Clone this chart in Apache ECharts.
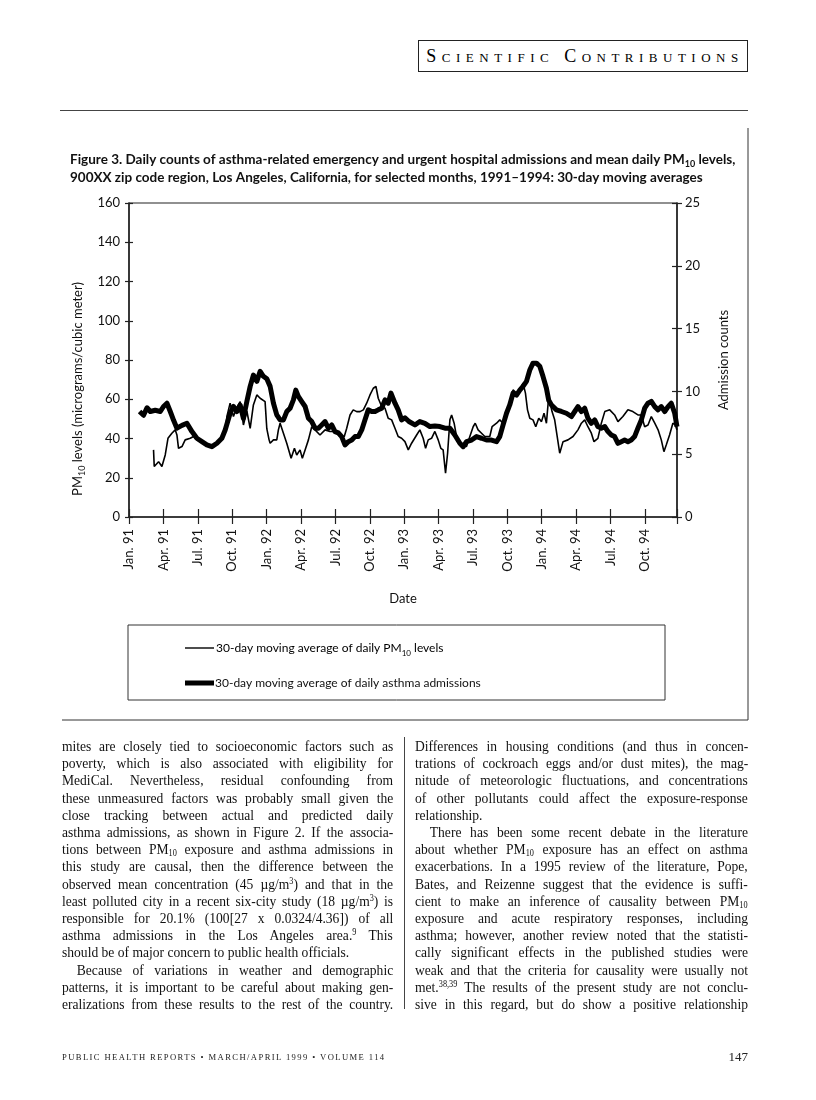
<!DOCTYPE html>
<html><head><meta charset="utf-8">
<script src="https://cdn.jsdelivr.net/npm/echarts@6/dist/echarts.min.js"></script>
<style>
html,body{margin:0;padding:0;background:#fff;}
#page{position:relative;width:816px;height:1100px;overflow:hidden;background:#fff;}
#chart{position:absolute;left:0;top:0;width:816px;height:1100px;}
.hdr{position:absolute;left:418px;top:40px;width:330px;height:32px;border:1px solid #222;box-sizing:border-box;font-family:'Liberation Serif',serif;font-variant:small-caps;font-size:18px;letter-spacing:5.5px;line-height:30px;text-align:center;color:#000;padding-left:4px;}
.rule{position:absolute;background:#444;}
.col{position:absolute;top:0;transform-origin:0 0;transform:scaleX(0.87);font-family:'Liberation Serif',serif;font-size:15.6px;color:#111;}
.ln{position:absolute;left:0;white-space:nowrap;line-height:17.2px;}
.ln sub,.ln sup{font-size:9.5px;line-height:0;}
.ln sub{vertical-align:-2px;}
.ln sup{vertical-align:5px;}
.foot{position:absolute;top:1052px;font-family:'Liberation Serif',serif;font-size:8.6px;letter-spacing:1.4px;color:#222;}
.pg{position:absolute;top:1049px;right:68px;font-family:'Liberation Serif',serif;font-size:13px;color:#222;}
</style>
</head>
<body>
<div id="page">
<div class="hdr">Scientific Contributions</div>
<div class="rule" style="left:60px;top:110px;width:688px;height:1px;"></div>
<div id="chart"></div>
<div class="rule" style="left:404px;top:737px;width:1px;height:272px;"></div>
<div class="col" id="colL" style="left:62px;">
<div class="ln j" style="top:737px">mites are closely tied to socioeconomic factors such as</div>
<div class="ln j" style="top:754.2px">poverty, which is also associated with eligibility for</div>
<div class="ln j" style="top:771.4px">MediCal. Nevertheless, residual confounding from</div>
<div class="ln j" style="top:788.6px">these unmeasured factors was probably small given the</div>
<div class="ln j" style="top:805.8px">close tracking between actual and predicted daily</div>
<div class="ln j" style="top:823px">asthma admissions, as shown in Figure 2. If the associa-</div>
<div class="ln j" style="top:840.2px">tions between PM<sub>10</sub> exposure and asthma admissions in</div>
<div class="ln j" style="top:857.4px">this study are causal, then the difference between the</div>
<div class="ln j" style="top:874.6px">observed mean concentration (45 µg/m<sup>3</sup>) and that in the</div>
<div class="ln j" style="top:891.8px">least polluted city in a recent six-city study (18 µg/m<sup>3</sup>) is</div>
<div class="ln j" style="top:909px">responsible for 20.1% (100[27 x 0.0324/4.36]) of all</div>
<div class="ln j" style="top:926.2px">asthma admissions in the Los Angeles area.<sup>9</sup> This</div>
<div class="ln" style="top:943.4px">should be of major concern to public health officials.</div>
<div class="ln j" style="top:960.6px;padding-left:17px">Because of variations in weather and demographic</div>
<div class="ln j" style="top:977.8px">patterns, it is important to be careful about making gen-</div>
<div class="ln j" style="top:995px">eralizations from these results to the rest of the country.</div>
</div>
<div class="col" id="colR" style="left:415px;">
<div class="ln j" style="top:737px">Differences in housing conditions (and thus in concen-</div>
<div class="ln j" style="top:754.2px">trations of cockroach eggs and/or dust mites), the mag-</div>
<div class="ln j" style="top:771.4px">nitude of meteorologic fluctuations, and concentrations</div>
<div class="ln j" style="top:788.6px">of other pollutants could affect the exposure-response</div>
<div class="ln" style="top:805.8px">relationship.</div>
<div class="ln j" style="top:823px;padding-left:17px">There has been some recent debate in the literature</div>
<div class="ln j" style="top:840.2px">about whether PM<sub>10</sub> exposure has an effect on asthma</div>
<div class="ln j" style="top:857.4px">exacerbations. In a 1995 review of the literature, Pope,</div>
<div class="ln j" style="top:874.6px">Bates, and Reizenne suggest that the evidence is suffi-</div>
<div class="ln j" style="top:891.8px">cient to make an inference of causality between PM<sub>10</sub></div>
<div class="ln j" style="top:909px">exposure and acute respiratory responses, including</div>
<div class="ln j" style="top:926.2px">asthma; however, another review noted that the statisti-</div>
<div class="ln j" style="top:943.4px">cally significant effects in the published studies were</div>
<div class="ln j" style="top:960.6px">weak and that the criteria for causality were usually not</div>
<div class="ln j" style="top:977.8px">met.<sup>38,39</sup> The results of the present study are not conclu-</div>
<div class="ln j" style="top:995px">sive in this regard, but do show a positive relationship</div>
</div>
<div class="foot" style="left:62px;">PUBLIC HEALTH REPORTS • MARCH/APRIL 1999 • VOLUME 114</div>
<div class="pg">147</div>
</div>
<script>
// ---- data (months since Jan. 1991) ----
const xLabels = ['Jan. 91','Apr. 91','Jul. 91','Oct. 91','Jan. 92','Apr. 92','Jul. 92','Oct. 92','Jan. 93','Apr. 93','Jul. 93','Oct. 93','Jan. 94','Apr. 94','Jul. 94','Oct. 94'];
const pmTicks = [0,20,40,60,80,100,120,140,160];
const admTicks = [0,5,10,15,20,25];
const admMonth = [0.92,1.27,1.57,1.86,2.29,2.73,3.01,3.31,3.6,3.89,4.18,4.62,5.05,5.49,5.92,6.36,6.79,7.23,7.67,8.1,8.39,8.82,9.11,9.41,9.7,9.98,10.28,10.57,10.85,11.15,11.44,11.72,12.02,12.31,12.6,12.89,13.18,13.47,13.76,14.05,14.34,14.55,14.77,15.07,15.36,15.65,15.94,16.23,16.52,16.81,17.1,17.39,17.68,17.97,18.26,18.55,18.84,19.13,19.43,19.71,20.0,20.3,20.58,20.87,21.17,21.46,21.74,22.04,22.33,22.61,22.85,23.2,23.48,23.78,24.07,24.42,24.94,25.37,25.81,26.25,26.68,27.12,27.56,27.99,28.42,28.86,29.15,29.44,29.88,30.31,30.75,31.18,31.62,32.06,32.34,32.63,32.93,33.21,33.5,33.8,34.09,34.37,34.67,34.96,35.24,35.54,35.83,36.11,36.41,36.61,36.85,37.28,37.72,38.15,38.59,38.88,39.16,39.46,39.75,40.03,40.33,40.62,40.9,41.2,41.5,41.78,42.07,42.36,42.65,42.94,43.23,43.52,43.81,44.1,44.39,44.69,44.98,45.27,45.56,45.86,46.15,46.43,46.73,47.02,47.3,47.6,47.8];
const admValue = [8.4,8.1,8.7,8.4,8.5,8.4,8.8,9.06,8.4,7.7,7.07,7.3,7.46,6.8,6.27,6.0,5.74,5.6,5.87,6.27,6.93,8.26,8.8,8.4,8.9,7.86,9.19,10.4,11.3,10.8,11.6,11.2,11.0,10.4,9.06,8.13,7.73,7.73,8.39,8.66,9.32,10.1,9.6,9.19,8.8,7.86,7.6,7.07,7.07,7.33,7.6,7.07,7.33,6.8,6.7,6.4,5.74,6.0,6.13,6.4,6.4,6.93,7.73,8.53,8.4,8.4,8.53,8.66,9.32,9.06,9.86,9.06,8.53,7.73,7.9,7.6,7.33,7.6,7.46,7.2,7.25,7.2,7.07,7.07,6.53,5.87,5.6,6.0,6.13,6.4,6.27,6.13,6.13,6.0,6.4,7.33,8.26,8.92,9.86,9.7,10.1,10.4,10.8,11.7,12.25,12.25,12.0,11.2,10.25,9.3,8.92,8.53,8.4,8.26,8.0,8.4,8.79,8.4,8.66,7.86,7.46,7.73,7.2,7.07,7.2,6.8,6.53,6.4,5.87,6.0,6.13,6.0,6.13,6.4,7.07,7.73,8.66,9.06,9.2,8.79,8.53,8.79,8.4,8.79,9.06,8.26,7.2];
const pmMonth = [2.14,2.2,2.58,2.87,3.16,3.4,3.74,4.03,4.18,4.32,4.62,4.9,5.34,5.63,5.92,6.36,6.8,7.23,7.67,8.1,8.39,8.54,8.82,9.11,9.41,9.7,9.98,10.28,10.57,10.85,11.15,11.44,11.87,12.02,12.22,12.31,12.6,12.89,13.03,13.18,13.47,13.76,14.14,14.43,14.63,14.92,15.12,15.36,15.65,15.94,16.23,16.66,17.1,17.53,17.97,18.4,18.78,18.99,19.28,19.56,19.86,20.15,20.44,20.73,21.02,21.31,21.54,21.74,22.04,22.33,22.61,22.91,23.2,23.48,23.78,24.07,24.36,24.65,25.09,25.37,25.66,25.87,26.1,26.39,26.68,26.97,27.2,27.4,27.61,27.79,27.99,28.14,28.36,28.57,28.86,29.15,29.44,29.73,30.02,30.2,30.45,30.75,31.04,31.47,31.67,32.06,32.34,32.63,32.93,33.21,33.5,33.8,34.09,34.37,34.58,34.76,34.96,35.24,35.48,35.74,35.98,36.2,36.41,36.61,36.9,37.13,37.57,37.86,38.29,38.73,39.16,39.46,39.75,40.03,40.33,40.56,40.9,41.2,41.5,41.93,42.36,42.65,43.08,43.52,43.95,44.39,44.69,44.98,45.27,45.56,45.86,46.15,46.43,46.66,46.86,47.15,47.44,47.64,47.8];
const pmValue = [34.2,25.7,28.2,25.7,31.6,40.1,42.7,44.4,41.8,35.0,35.9,39.3,40.1,41.0,39.3,38.0,37.0,36.5,37.5,40.0,44.0,51.2,58.0,51.2,56.0,58.8,46.9,54.0,45.2,57.1,62.2,60.5,58.8,45.0,39.3,37.6,39.3,39.3,44.4,47.8,42.7,37.6,29.9,35.0,31.6,34.2,29.9,34.2,39.3,46.0,44.4,41.8,44.4,43.6,43.6,41.0,41.0,45.2,52.0,54.6,53.7,53.7,54.6,58.0,62.2,65.6,66.5,60.5,56.3,55.4,50.3,49.5,45.2,41.0,40.1,38.4,34.2,37.6,41.8,44.4,40.1,35.0,39.3,40.1,43.6,39.3,35.0,34.2,22.3,32.5,49.5,52.0,47.8,41.0,38.4,35.9,35.9,41.0,46.0,47.8,44.4,42.7,41.0,41.0,46.0,47.8,49.5,47.8,52.9,57.1,64.8,63.1,64.8,68.2,63.1,54.6,50.3,49.5,46.0,50.3,48.6,52.9,47.8,61.4,53.7,49.5,32.5,38.4,39.3,41.0,44.4,47.8,49.5,46.0,42.7,38.4,40.1,47.8,53.7,54.6,52.0,48.6,51.2,54.6,53.7,52.0,52.0,46.0,46.9,51.2,47.8,44.4,39.3,33.3,36.7,41.8,47.8,47.0,44.4];

const pmData = pmMonth.map((m,i)=>[m,pmValue[i]]);
const admData = admMonth.map((m,i)=>[m,admValue[i]]);

const FONT = 'Lato, "Open Sans", sans-serif';
const INK = '#111';
const chart = echarts.init(document.getElementById('chart'), null, {renderer:'canvas'});
const tickLbl = {fontFamily:FONT, fontSize:13, color:INK};
const xFmt = v => { const i = Math.round(v/3); return (Math.abs(v-i*3)<1e-6 && i<xLabels.length) ? xLabels[i] : ''; };
const subRich = (fs) => ({a:{fontFamily:FONT,fontSize:fs,color:INK,lineHeight:18}, s:{fontFamily:FONT,fontSize:fs-4,color:INK,lineHeight:18,verticalAlign:'bottom'}});

const option = {
  animation:false,
  title:{
    left:70, top:151, padding:0,
    text:'{b|Figure 3. Daily counts of asthma-related emergency and urgent hospital admissions and mean daily PM}{s|10}{b| levels,}\n{b|900XX zip code region, Los Angeles, California, for selected months, 1991–1994: 30-day moving averages}',
    textStyle:{rich:{
      b:{fontFamily:FONT,fontWeight:'bold',fontSize:13.5,lineHeight:18,color:INK},
      s:{fontFamily:FONT,fontWeight:'bold',fontSize:9,lineHeight:18,verticalAlign:'bottom',color:INK}
    }}
  },
  grid:{left:129, top:203, width:548, height:314, show:true, borderColor:'#222', borderWidth:1.2, backgroundColor:'transparent', containLabel:false},
  xAxis:[
    {type:'value', position:'bottom', min:0, max:47.8, interval:3,
     axisLine:{onZero:false, lineStyle:{color:'#222', width:1.5}},
     axisTick:{length:7, lineStyle:{color:'#222', width:1.2}},
     splitLine:{show:false},
     axisLabel:Object.assign({rotate:90, margin:12, formatter:xFmt, showMaxLabel:true}, tickLbl),
     name:'Date', nameLocation:'middle', nameGap:75,
     nameTextStyle:{fontFamily:FONT, fontSize:13, color:INK}},
    {type:'value', position:'bottom', min:0, max:47.8, interval:3,
     axisLine:{show:false, onZero:false}, axisTick:{inside:true, length:8, lineStyle:{color:'#222', width:1.2}},
     axisLabel:{show:false}, splitLine:{show:false}}
  ],
  yAxis:[
    {type:'value', position:'left', min:0, max:160, interval:20,
     axisLine:{show:true, onZero:false, lineStyle:{color:'#222', width:1.5}},
     axisTick:{show:true, length:4, lineStyle:{color:'#222', width:1.2}},
     splitLine:{show:false},
     axisLabel:Object.assign({margin:9}, tickLbl),
     name:'{a|PM}{s|10}{a| levels (micrograms/cubic meter)}', nameLocation:'middle', nameRotate:90, nameGap:40,
     nameTextStyle:{rich:subRich(13), padding:[0,58,0,0]}},
    {type:'value', position:'right', min:0, max:25, interval:5,
     axisLine:{show:true, onZero:false, lineStyle:{color:'#222', width:1.5}},
     axisTick:{show:true, length:5, lineStyle:{color:'#222', width:1.2}},
     splitLine:{show:false},
     axisLabel:Object.assign({margin:8}, tickLbl),
     name:'Admission counts', nameLocation:'middle', nameRotate:90, nameGap:40,
     nameTextStyle:{fontFamily:FONT, fontSize:13, color:INK}},
    {type:'value', position:'left', min:0, max:160, interval:20,
     axisLine:{show:false, onZero:false}, axisTick:{show:true, inside:true, length:4, lineStyle:{color:'#222', width:1.2}},
     axisLabel:{show:false}, splitLine:{show:false}},
    {type:'value', position:'right', min:0, max:25, interval:5,
     axisLine:{show:false, onZero:false}, axisTick:{show:true, inside:true, length:5, lineStyle:{color:'#222', width:1.2}},
     axisLabel:{show:false}, splitLine:{show:false}}
  ],
  series:[
    {name:'30-day moving average of daily PM10 levels', type:'line', xAxisIndex:0, yAxisIndex:0, data:pmData,
     symbol:'none', lineStyle:{color:'#000', width:1.6}, z:3},
    {name:'30-day moving average of daily asthma admissions', type:'line', xAxisIndex:0, yAxisIndex:1, data:admData,
     symbol:'none', lineStyle:{color:'#000', width:5, join:'round'}, z:2}
  ],
  graphic:[
    {type:'line', shape:{x1:748, y1:128, x2:748, y2:720}, style:{stroke:'#333', lineWidth:1}},
    {type:'line', shape:{x1:62, y1:720, x2:748, y2:720}, style:{stroke:'#333', lineWidth:1}},
    {type:'rect', shape:{x:128, y:625, width:537, height:75}, style:{fill:'none', stroke:'#333', lineWidth:1}},
    {type:'line', shape:{x1:185, y1:648, x2:214, y2:648}, style:{stroke:'#000', lineWidth:1.4}},
    {type:'line', shape:{x1:185, y1:683, x2:214, y2:683}, style:{stroke:'#000', lineWidth:5}},
    {type:'text', x:216, y:648, style:{text:'{a|30-day moving average of daily PM}{s|10}{a| levels}', rich:subRich(12), verticalAlign:'middle'}},
    {type:'text', x:215, y:683, style:{text:'30-day moving average of daily asthma admissions', font:'12px '+FONT, fill:INK, verticalAlign:'middle'}}
  ]
};
chart.setOption(option);

// justify body text lines to column width
const SX = 0.87;
document.querySelectorAll('.col').forEach(col=>{
  const target = (col.id==='colL' ? 331 : 333)/SX;
  col.querySelectorAll('.ln.j').forEach(el=>{
    el.style.wordSpacing='0px';
    const w = el.offsetWidth;
    const n = (el.textContent.match(/ /g)||[]).length;
    if(n) el.style.wordSpacing = ((target-w)/n)+'px';
  });
});
</script>
</body></html>
